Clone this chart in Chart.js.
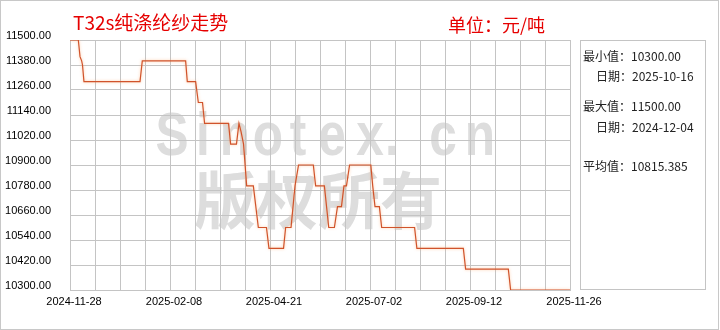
<!DOCTYPE html>
<html>
<head>
<meta charset="utf-8">
<script src="https://cdn.jsdelivr.net/npm/chart.js@4.4.0/dist/chart.umd.min.js"></script>
<style>
  body { margin: 0; background: #fff; }
</style>
</head>
<body>
<canvas id="priceChart" width="720" height="330"></canvas>
<script>
// 交易日序号 (0 = 2024-11-28, 240 = 2025-11-26) 与价格 元/吨
const dayIndex = [0, 4, 4.8, 5.6, 6, 6.7, 33.6, 34.7, 55.5, 56.3, 60.3, 61.6, 63.6, 64.6,
  76.1, 77.1, 79.9, 81.1, 82.1, 83.3, 84.8, 88, 90.4, 94.3, 95.5, 102.5, 103.5, 106.1,
  108, 109.7, 116.8, 117.9, 122.1, 124.2, 126.9, 128.4, 130.3, 131.5, 132.7, 134.2,
  144.4, 145.3, 146.4, 148.5, 149.6, 165.4, 166.5, 188.8, 189.9, 210.4, 211.5, 240];
const price = [11500, 11500, 11420, 11400, 11380, 11300, 11300, 11400, 11400, 11300, 11300, 11200, 11200, 11100,
  11100, 11000, 11000, 11100, 11060, 11000, 10800, 10800, 10600, 10600, 10500, 10500, 10600, 10600,
  10800, 10900, 10900, 10800, 10800, 10600, 10600, 10700, 10700, 10800, 10800, 10900,
  10900, 10800, 10700, 10700, 10600, 10600, 10500, 10500, 10400, 10400, 10300, 10300];

const xGrid = [0, 12, 24, 36, 48, 60, 72, 84, 96, 108, 120, 132, 144, 156, 168, 180, 192, 204, 216, 228, 240];
const xLabelPos = [0, 48, 96, 144, 192, 240];
const xLabels = ['2024-11-28', '2025-02-08', '2025-04-21', '2025-07-02', '2025-09-12', '2025-11-26'];
const yTicks = [10300, 10420, 10540, 10660, 10780, 10900, 11020, 11140, 11260, 11380, 11500];

const title = 'T32s纯涤纶纱走势';
const unit = '单位：元/吨';
const statLines = [
  ['最小值：', '10300.00'],
  ['  日期：', '2025-10-16'],
  ['最大值：', '11500.00'],
  ['  日期：', '2024-12-04'],
  ['平均值：', '10815.385']
];

const gridColor = '#c4c4c4';

const decor = {
  id: 'decor',
  beforeDraw(chart) {
    const ctx = chart.ctx;
    ctx.save();
    ctx.fillStyle = '#fff';
    ctx.fillRect(0, 0, chart.width, chart.height);
    // 水印
    ctx.fillStyle = '#dddddd';
    ctx.textAlign = 'center';
    ctx.textBaseline = 'alphabetic';
    ctx.font = 'bold 62px "Liberation Sans"';
    const wm = 'Sinotex.cn';
    const cx = [172, 203, 235, 268, 298, 332, 370, 392, 443, 480];
    for (let i = 0; i < wm.length; i++) {
      ctx.save();
      ctx.translate(cx[i], 155);
      ctx.scale(0.8, 1);
      ctx.fillText(wm[i], 0, 0);
      ctx.restore();
    }
    ctx.font = 'bold 62px "Noto Sans CJK SC"';
    ctx.textBaseline = 'middle';
    ctx.fillText('版权所有', 318, 200);
    ctx.restore();
  },
  beforeDatasetsDraw(chart) {
    chart.ctx.save();
    chart.ctx.shadowColor = 'rgba(255, 170, 110, 0.7)';
    chart.ctx.shadowBlur = 3;
  },
  afterDatasetsDraw(chart) {
    chart.ctx.restore();
  },
  afterDraw(chart) {
    const ctx = chart.ctx;
    ctx.save();
    ctx.fillStyle = '#e60000';
    ctx.textBaseline = 'middle';
    ctx.textAlign = 'left';
    ctx.font = '19px "Noto Sans CJK SC"';
    ctx.fillText(title, 73, 23);
    ctx.font = '18px "Noto Sans CJK SC"';
    ctx.fillText(unit, 448, 25);

    // 右侧统计框
    ctx.strokeStyle = gridColor;
    ctx.lineWidth = 1;
    ctx.strokeRect(580.5, 40.5, 125, 249);
    ctx.fillStyle = '#222';
    ctx.font = '12px "Noto Sans CJK SC"';
    const rows = [56, 76, 106, 127, 166];
    statLines.forEach((s, i) => {
      const x = s[0].startsWith(' ') ? 596 : 583;
      const lab = s[0].trim();
      ctx.fillText(lab, x, rows[i]);
      ctx.fillText(s[1], x + ctx.measureText(lab).width, rows[i]);
    });

    ctx.strokeStyle = '#c8c8c8';
    ctx.strokeRect(0.5, 0.5, 718, 329);
    ctx.restore();
  }
};

Chart.defaults.font.family = '"Liberation Sans", Arial, sans-serif';
Chart.defaults.font.size = 11;
Chart.defaults.color = '#000';

new Chart(document.getElementById('priceChart').getContext('2d'), {
  type: 'line',
  data: {
    datasets: [{
      label: title,
      data: dayIndex.map((d, i) => ({ x: d, y: price[i] })),
      borderColor: '#d0532b',
      borderWidth: 1.2,
      pointRadius: 0,
      tension: 0,
      fill: false
    }]
  },
  options: {
    responsive: false,
    animation: false,
    layout: { padding: { top: 40, right: 150, left: 0, bottom: 0 } },
    plugins: {
      legend: { display: false },
      tooltip: { enabled: false }
    },
    scales: {
      x: {
        type: 'linear',
        min: 0,
        max: 240,
        afterBuildTicks: s => { s.ticks = xGrid.map(v => ({ value: v })); },
        afterFit: s => { s.height = 40; },
        grid: { color: gridColor, drawTicks: false },
        border: { color: gridColor },
        ticks: {
          autoSkip: false,
          maxRotation: 0,
          padding: 5,
          labelOffset: 4,
          callback: v => {
            const i = xLabelPos.indexOf(v);
            return i >= 0 ? xLabels[i] : '';
          }
        }
      },
      y: {
        min: 10300,
        max: 11500,
        afterBuildTicks: s => { s.ticks = yTicks.map(v => ({ value: v })); },
        afterFit: s => { s.width = 70; },
        grid: { color: gridColor, drawTicks: false },
        border: { color: gridColor },
        ticks: {
          padding: 19,
          labelOffset: -4,
          callback: v => v.toFixed(2)
        }
      }
    }
  },
  plugins: [decor]
});
</script>
</body>
</html>
